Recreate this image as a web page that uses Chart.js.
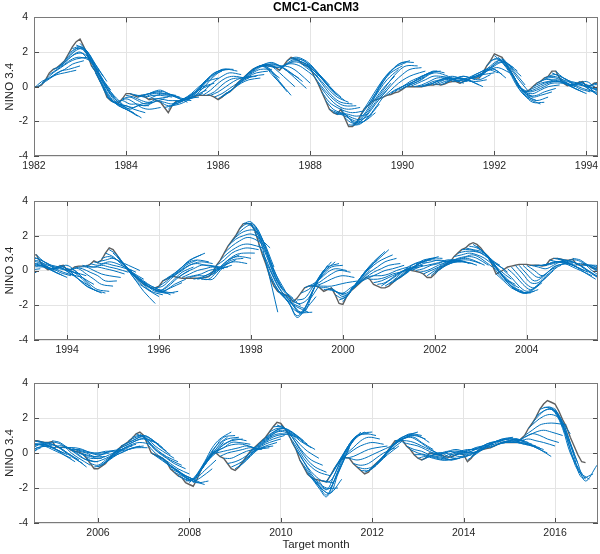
<!DOCTYPE html>
<html>
<head>
<meta charset="utf-8">
<script src="https://cdn.jsdelivr.net/npm/chart.js@4.4.0/dist/chart.umd.min.js"></script>
<style>
  body { margin: 0; background: #fff; }
  .panel { position: absolute; left: 0; width: 600px; }
</style>
</head>
<body>
<div class="panel" style="top:0"><canvas id="c1" width="600" height="180"></canvas></div>
<div class="panel" style="top:180px"><canvas id="c2" width="600" height="180"></canvas></div>
<div class="panel" style="top:360px"><canvas id="c3" width="600" height="194"></canvas></div>
<script>
'use strict';

// observed monthly NINO 3.4, starting Jan 1982
const obsStartYear = 1982;
const ninoObs = [
  0.0, 0.0, 0.1, 0.4, 0.8, 1.0, 1.1, 1.3, 1.5, 1.9, 2.3, 2.6, // 1982
  2.75, 2.3, 1.8, 1.2, 0.9, 0.4, 0.0, -0.6, -0.8, -0.9, -0.95, -0.7,
  -0.4, -0.4, -0.5, -0.6, -0.5, -0.6, -0.75, -0.7, -0.8, -0.9, -1.2, -1.5,
  -1.1, -0.85, -0.8, -0.7, -0.7, -0.6, -0.55, -0.5, -0.5, -0.5, -0.5, -0.6,
  -0.75, -0.6, -0.4, -0.3, -0.1, 0.2, 0.4, 0.6, 0.8, 1.0, 1.1, 1.2, // 1986
  1.25, 1.2, 1.2, 1.1, 0.95, 1.2, 1.5, 1.7, 1.6, 1.5, 1.3, 1.2,
  1.1, 0.6, 0.2, -0.3, -0.8, -1.3, -1.5, -1.6, -1.3, -1.8, -2.3, -2.3,
  -2.1, -1.7, -1.3, -1.1, -0.9, -0.75, -0.7, -0.6, -0.5, -0.45, -0.35, -0.3,
  -0.15, 0.0, 0.0, 0.0, 0.0, 0.0, 0.05, 0.1, 0.1, 0.15, 0.1, 0.15, // 1990
  0.25, 0.3, 0.3, 0.2, 0.3, 0.4, 0.5, 0.5, 0.5, 0.8, 1.2, 1.5,
  1.9, 1.8, 1.7, 1.3, 1.0, 0.6, 0.1, -0.1, -0.3, -0.2, 0.0, 0.2,
  0.3, 0.5, 0.6, 0.9, 0.9, 0.5, 0.2, 0.05, 0.1, 0.15, 0.25, 0.3,
  0.0, 0.05, 0.2, 0.25, 0.25, 0.25, 0.35, 0.55, 0.45, 0.6, 1.0, 1.3, // 1994
  1.2, 0.9, 0.55, 0.3, 0.0, -0.2, -0.4, -0.6, -0.8, -0.9, -1.0, -1.0,
  -0.9, -0.6, -0.5, -0.35, -0.35, -0.4, -0.45, -0.45, -0.45, -0.45, -0.45, -0.45,
  -0.4, -0.35, -0.1, 0.3, 0.6, 1.0, 1.4, 1.7, 2.0, 2.4, 2.7, 2.7,
  2.7, 2.3, 1.6, 0.9, 0.3, -0.4, -0.9, -1.2, -1.3, -1.4, -1.5, -1.8, // 1998
  -1.6, -1.3, -1.0, -0.9, -0.9, -0.9, -1.0, -1.2, -1.1, -1.0, -1.4, -1.9,
  -1.95, -1.5, -1.2, -1.0, -0.8, -0.6, -0.4, -0.5, -0.8, -0.9, -1.0, -1.0,
  -0.9, -0.7, -0.5, -0.4, -0.2, 0.05, 0.0, -0.05, -0.1, -0.2, -0.4, -0.4,
  -0.2, 0.05, 0.2, 0.35, 0.5, 0.8, 1.0, 1.2, 1.3, 1.5, 1.6, 1.5, // 2002
  1.3, 1.0, 0.8, 0.3, -0.2, -0.1, 0.05, 0.2, 0.25, 0.3, 0.35, 0.35,
  0.35, 0.3, 0.3, 0.3, 0.25, 0.3, 0.6, 0.7, 0.7, 0.65, 0.6, 0.6,
  0.65, 0.35, 0.3, 0.35, 0.3, 0.15, 0.1, 0.05, -0.05, -0.3, -0.6, -0.9,
  -0.9, -0.75, -0.6, -0.3, -0.05, 0.15, 0.35, 0.5, 0.65, 0.85, 1.1, 1.2, // 2006
  1.0, 0.5, 0.0, -0.1, -0.2, -0.3, -0.5, -0.9, -1.1, -1.3, -1.4, -1.7,
  -1.8, -1.9, -1.5, -1.0, -0.6, -0.3, 0.0, 0.0, -0.2, -0.3, -0.6, -0.9,
  -1.0, -0.8, -0.5, -0.2, 0.1, 0.3, 0.5, 0.7, 0.9, 1.2, 1.5, 1.75,
  1.7, 1.4, 1.1, 0.6, 0.2, -0.4, -0.8, -1.2, -1.4, -1.5, -1.55, -1.6, // 2010
  -1.65, -1.3, -0.9, -0.6, -0.35, -0.25, -0.3, -0.6, -0.8, -1.0, -1.2, -1.1,
  -0.8, -0.6, -0.4, -0.2, 0.1, 0.4, 0.7, 0.7, 0.7, 0.4, 0.2, -0.1,
  -0.3, -0.4, -0.3, 0.0, -0.05, -0.1, -0.1, -0.2, -0.25, -0.2, -0.1, 0.0,
  -0.1, -0.5, -0.3, 0.0, 0.15, 0.2, 0.25, 0.3, 0.4, 0.5, 0.6, 0.6, // 2014
  0.6, 0.6, 0.6, 0.8, 1.0, 1.4, 1.7, 2.05, 2.5, 2.8, 3.0, 2.9,
  2.8, 2.4, 1.9, 1.5, 0.9, 0.4, -0.1, -0.5, -0.55
];

// forecasts start every 2 months; values given at these lead months
const fcStepMonths = 2;
const fcLeads = [0, 2, 4, 6, 8, 11];

// starts in Jan, Mar, May, Jul, Sep, Nov (first one Jan 1982)
const fcFromJan = [
  // 1982
  [-0.1, 0.3, 0.5, 0.7, 0.8, 0.95], [0.2, 0.5, 0.8, 1.0, 1.3, 1.5], [0.7, 1.0, 1.3, 1.6, 1.7, 1.5],
  [1.1, 1.4, 1.8, 2.0, 1.6, 0.9], [1.5, 2.0, 2.3, 2.0, 1.3, 0.3], [2.2, 2.3, 1.8, 1.0, 0.3, -0.6],
  // 1983
  [2.5, 2.0, 1.2, 0.4, -0.3, -1.0], [1.7, 1.0, 0.2, -0.5, -1.0, -1.3], [0.8, 0.0, -0.7, -1.1, -1.3, -1.7],
  [0.0, -0.8, -1.0, -1.1, -1.3, -1.5], [-0.8, -1.0, -1.1, -1.2, -1.0, -0.9], [-0.9, -0.7, -0.9, -1.2, -1.3, -1.2],
  // 1984
  [-0.5, -0.6, -0.8, -0.9, -0.7, -0.6], [-0.5, -0.5, -0.4, -0.3, -0.4, -0.5], [-0.5, -0.4, -0.3, -0.3, -0.5, -0.7],
  [-0.7, -0.5, -0.4, -0.5, -0.7, -0.8], [-0.8, -0.9, -1.0, -0.9, -0.7, -0.6], [-1.2, -1.1, -1.0, -0.8, -0.5, -0.2],
  // 1985
  [-1.0, -0.8, -0.6, -0.3, 0.0, 0.2], [-0.8, -0.6, -0.3, 0.2, 0.6, 0.9], [-0.7, -0.4, 0.1, 0.6, 0.9, 1.0],
  [-0.5, -0.1, 0.4, 0.8, 1.0, 0.9], [-0.5, -0.2, 0.2, 0.5, 0.6, 0.5], [-0.5, -0.3, 0.0, 0.3, 0.5, 0.6],
  // 1986
  [-0.7, -0.4, -0.1, 0.2, 0.4, 0.5], [-0.4, -0.1, 0.3, 0.6, 0.8, 0.9], [-0.1, 0.3, 0.7, 1.0, 1.2, 1.1],
  [0.4, 0.8, 1.1, 1.2, 0.7, 0.0], [0.8, 1.1, 1.2, 0.9, 0.3, -0.5], [1.1, 1.3, 1.4, 1.2, 0.9, 0.5],
  // 1987
  [1.2, 1.3, 1.2, 0.9, 0.5, -0.1], [1.2, 1.1, 1.3, 1.3, 1.1, 0.6], [1.0, 1.3, 1.5, 1.4, 1.1, 0.5],
  [1.5, 1.7, 1.6, 1.3, 0.8, 0.1], [1.6, 1.4, 1.2, 0.8, 0.2, -0.5], [1.3, 1.1, 0.7, 0.2, -0.3, -0.8],
  // 1988
  [1.0, 0.5, -0.1, -0.6, -0.9, -1.0], [0.2, -0.4, -0.9, -1.2, -1.3, -1.2], [-0.8, -1.3, -1.5, -1.6, -1.7, -1.6],
  [-1.5, -1.6, -1.8, -2.0, -2.0, -1.5], [-1.3, -1.8, -2.2, -2.0, -1.5, -0.6], [-2.2, -2.2, -1.8, -1.2, -0.6, 0.2],
  // 1989
  [-2.0, -1.6, -0.9, -0.2, 0.4, 1.0], [-1.3, -0.6, 0.1, 0.7, 1.1, 1.4], [-0.9, -0.1, 0.6, 1.1, 1.4, 1.4],
  [-0.7, -0.2, 0.3, 0.7, 1.0, 1.1], [-0.5, -0.2, 0.0, 0.3, 0.5, 0.8], [-0.3, 0.0, 0.2, 0.4, 0.7, 0.9],
  // 1990
  [-0.1, 0.1, 0.3, 0.6, 0.9, 0.8], [0.0, 0.2, 0.4, 0.6, 0.6, 0.5], [0.0, 0.1, 0.3, 0.4, 0.5, 0.3],
  [0.1, 0.2, 0.4, 0.5, 0.4, 0.3], [0.1, 0.3, 0.5, 0.5, 0.6, 0.4], [0.1, 0.3, 0.5, 0.4, 0.3, 0.0],
  // 1991
  [0.3, 0.5, 0.6, 0.5, 0.4, 0.7], [0.3, 0.4, 0.6, 0.8, 1.0, 0.8], [0.3, 0.5, 0.7, 0.9, 1.0, 0.5],
  [0.5, 0.6, 0.9, 1.2, 1.4, 1.1], [0.5, 0.9, 1.3, 1.6, 1.2, 0.6], [1.2, 1.6, 1.5, 1.1, 0.5, -0.3],
  // 1992
  [1.8, 1.4, 0.8, 0.0, -0.5, -0.8], [1.6, 1.0, 0.2, -0.5, -0.9, -0.9], [1.0, 0.2, -0.4, -0.6, -0.5, -0.3],
  [0.1, -0.3, -0.4, -0.2, 0.0, 0.1], [-0.3, -0.2, 0.0, 0.2, 0.3, 0.2], [0.0, 0.2, 0.3, 0.4, 0.3, 0.0],
  // 1993
  [0.3, 0.5, 0.5, 0.3, 0.0, -0.3], [0.6, 0.7, 0.5, 0.2, -0.1, -0.3], [0.9, 0.5, 0.3, 0.2, 0.0, -0.2],
  [0.2, 0.1, 0.1, 0.0, -0.1, -0.3], [0.1, 0.2, 0.3, 0.0, -0.4, -0.8], [0.3, 0.1, -0.3, -0.7, -1.0, -1.3],
  // 1994
  [0.1, 0.0, -0.4, -0.8, -1.1, -1.2], [0.2, 0.1, -0.1, -0.3, -0.6, -0.6], [0.3, 0.2, 0.2, 0.1, 0.0, -0.2],
  [0.4, 0.3, 0.4, 0.3, 0.2, 0.0], [0.5, 0.6, 0.7, 0.5, 0.3, 0.0], [1.0, 0.8, 0.4, 0.0, -0.4, -0.8],
  // 1995
  [1.0, 0.6, 0.0, -0.6, -1.2, -1.9], [0.5, 0.1, -0.4, -0.8, -1.2, -1.4], [0.0, -0.3, -0.6, -0.9, -1.1, -1.4],
  [-0.4, -0.7, -1.0, -1.2, -1.3, -1.2], [-0.8, -1.0, -1.2, -1.1, -0.8, -0.5], [-1.0, -1.2, -0.9, -0.5, -0.1, 0.2],
  // 1996
  [-0.9, -0.6, -0.2, 0.2, 0.6, 0.9], [-0.5, -0.2, 0.2, 0.5, 0.6, 0.5], [-0.3, 0.0, 0.3, 0.4, 0.3, 0.2],
  [-0.4, -0.2, 0.0, 0.1, 0.2, 0.1], [-0.4, -0.3, -0.3, -0.1, 0.1, 0.3], [-0.5, -0.4, -0.2, 0.2, 0.6, 0.9],
  // 1997
  [-0.5, -0.5, 0.0, 0.4, 0.5, 0.4], [-0.1, 0.2, 0.6, 0.9, 1.0, 1.0], [0.6, 1.0, 1.3, 1.5, 1.5, 1.3],
  [1.4, 1.8, 2.0, 2.1, 1.9, 1.3], [2.0, 2.4, 2.6, 2.0, 0.4, -2.4], [2.7, 2.8, 2.2, 1.2, 0.0, -1.2],
  // 1998
  [2.6, 2.0, 1.0, -0.2, -1.0, -1.6], [1.5, 0.6, -0.4, -1.2, -1.6, -2.0], [0.3, -0.7, -1.4, -1.8, -2.1, -2.4],
  [-0.9, -1.4, -1.9, -2.7, -2.3, -1.5], [-1.3, -1.9, -2.6, -2.2, -1.2, 0.0], [-1.6, -2.3, -2.4, -1.3, -0.3, 0.5],
  // 1999
  [-1.7, -1.6, -1.0, -0.3, 0.2, 0.4], [-1.0, -0.8, -0.5, -0.1, 0.1, 0.0], [-0.9, -0.8, -0.6, -0.4, -0.3, -0.4],
  [-1.0, -1.0, -1.2, -1.3, -1.0, -0.6], [-1.1, -1.2, -1.5, -1.2, -0.7, 0.0], [-1.4, -1.6, -1.2, -0.6, 0.0, 0.6],
  // 2000
  [-1.8, -1.2, -0.6, 0.0, 0.5, 1.1], [-1.1, -0.6, -0.1, 0.3, 0.6, 0.9], [-0.8, -0.4, -0.1, 0.1, 0.3, 0.4],
  [-0.4, -0.3, -0.3, -0.2, 0.0, 0.2], [-0.7, -0.6, -0.4, -0.2, 0.0, 0.1], [-0.9, -0.6, -0.3, 0.0, 0.2, 0.3],
  // 2001
  [-0.8, -0.5, -0.1, 0.3, 0.5, 0.6], [-0.5, -0.2, 0.1, 0.4, 0.6, 0.8], [-0.2, 0.1, 0.4, 0.6, 0.6, 0.5],
  [0.0, 0.2, 0.3, 0.4, 0.5, 0.6], [-0.1, 0.0, 0.2, 0.4, 0.5, 0.5], [-0.3, 0.0, 0.3, 0.5, 0.6, 0.4],
  // 2002
  [-0.2, 0.2, 0.4, 0.5, 0.5, 0.3], [0.2, 0.4, 0.6, 0.7, 0.6, 0.3], [0.5, 0.7, 0.8, 0.9, 0.7, 0.2],
  [1.0, 1.1, 1.1, 1.0, 0.7, 0.3], [1.3, 1.2, 1.1, 0.8, 0.4, -0.1], [1.5, 1.2, 0.8, 0.2, -0.4, -0.8],
  // 2003
  [1.2, 0.8, 0.2, -0.4, -0.9, -1.2], [0.7, 0.1, -0.4, -0.9, -1.2, -1.3], [-0.2, -0.6, -1.0, -1.2, -1.3, -1.1],
  [0.0, -0.4, -0.9, -1.2, -1.0, -0.4], [0.2, -0.3, -0.8, -1.0, -0.6, 0.0], [0.3, -0.2, -0.6, -0.4, 0.0, 0.3],
  // 2004
  [0.3, 0.0, -0.3, 0.0, 0.3, 0.4], [0.3, 0.3, 0.4, 0.5, 0.4, 0.3], [0.3, 0.4, 0.5, 0.5, 0.3, 0.0],
  [0.6, 0.5, 0.4, 0.2, 0.0, -0.3], [0.7, 0.6, 0.5, 0.3, 0.0, -0.4], [0.6, 0.5, 0.3, 0.0, -0.3, -0.8],
  // 2005
  [0.7, 0.6, 0.3, 0.0, -0.3, -0.5], [0.3, 0.3, 0.1, -0.1, -0.3, -0.3], [0.3, 0.3, 0.2, 0.0, -0.1, 0.0],
  [0.2, 0.1, 0.0, 0.0, 0.1, 0.1], [-0.1, -0.2, -0.3, -0.2, 0.0, 0.2], [-0.6, -0.7, -0.4, -0.1, 0.2, 0.4],
  // 2006
  [-0.8, -0.5, -0.2, 0.0, 0.2, 0.4], [-0.5, -0.2, 0.1, 0.2, 0.3, 0.3], [0.0, 0.3, 0.5, 0.7, 0.8, 0.6],
  [0.4, 0.6, 0.8, 1.0, 0.8, 0.3], [0.7, 0.9, 1.0, 0.8, 0.4, -0.1], [1.1, 0.9, 0.5, 0.1, -0.2, -0.5],
  // 2007
  [0.9, 0.4, 0.0, -0.3, -0.6, -0.9], [0.0, -0.3, -0.6, -0.9, -1.2, -1.5], [-0.2, -0.5, -0.9, -1.2, -1.4, -1.7],
  [-0.5, -0.9, -1.2, -1.5, -1.7, -1.6], [-1.1, -1.3, -1.5, -1.4, -1.0, -0.4], [-1.4, -1.6, -1.3, -0.6, 0.0, 0.6],
  // 2008
  [-1.7, -1.2, -0.5, 0.3, 0.8, 1.2], [-1.3, -0.7, -0.1, 0.5, 0.8, 0.9], [-0.6, -0.1, 0.3, 0.6, 0.8, 0.7],
  [0.0, 0.2, 0.4, 0.5, 0.5, 0.3], [-0.2, 0.0, 0.1, 0.2, 0.3, 0.2], [-0.6, -0.5, -0.3, 0.0, 0.2, 0.3],
  // 2009
  [-0.9, -0.6, -0.2, 0.2, 0.4, 0.6], [-0.5, -0.1, 0.3, 0.6, 0.8, 1.0], [0.1, 0.4, 0.7, 1.0, 1.1, 1.0],
  [0.5, 0.8, 1.1, 1.3, 1.2, 0.8], [0.9, 1.2, 1.4, 1.3, 1.0, 0.5], [1.5, 1.5, 1.3, 1.0, 0.6, 0.2],
  // 2010
  [1.6, 1.2, 0.6, 0.0, -0.4, -0.7], [1.0, 0.4, -0.3, -0.8, -1.1, -1.3], [0.2, -0.5, -1.2, -1.7, -2.0, -2.0],
  [-0.8, -1.4, -2.0, -2.5, -1.6, -0.2], [-1.4, -1.9, -2.4, -1.6, -0.6, 0.8], [-1.6, -2.1, -1.3, -0.3, 0.5, 1.2],
  // 2011
  [-1.6, -1.0, -0.2, 0.5, 1.0, 1.1], [-0.9, -0.2, 0.4, 0.9, 1.1, 1.0], [-0.3, 0.0, 0.3, 0.5, 0.6, 0.5],
  [-0.3, -0.4, -0.3, -0.1, 0.1, 0.4], [-0.8, -0.9, -0.8, -0.5, -0.1, 0.4], [-1.1, -0.9, -0.5, 0.0, 0.5, 0.9],
  // 2012
  [-0.8, -0.4, 0.1, 0.6, 0.9, 1.1], [-0.4, 0.1, 0.6, 0.9, 1.1, 1.0], [0.1, 0.5, 0.8, 1.0, 1.0, 0.6],
  [0.7, 0.8, 0.9, 0.7, 0.4, 0.0], [0.6, 0.5, 0.4, 0.2, 0.0, -0.2], [0.2, 0.0, -0.1, -0.2, -0.3, -0.4],
  // 2013
  [-0.3, -0.2, -0.3, -0.4, -0.4, -0.3], [-0.3, -0.1, 0.0, -0.2, -0.3, -0.2], [-0.1, 0.0, 0.1, 0.0, -0.1, 0.0],
  [-0.1, 0.1, 0.2, 0.1, 0.0, 0.2], [-0.2, 0.0, 0.1, 0.2, 0.3, 0.4], [-0.1, 0.0, 0.1, 0.3, 0.5, 0.7],
  // 2014
  [-0.2, -0.1, 0.2, 0.5, 0.6, 0.8], [-0.2, 0.1, 0.4, 0.6, 0.8, 0.9], [0.2, 0.4, 0.6, 0.7, 0.8, 0.7],
  [0.3, 0.4, 0.6, 0.7, 0.8, 0.6], [0.4, 0.6, 0.7, 0.8, 0.6, 0.4], [0.6, 0.7, 0.6, 0.5, 0.4, 0.2],
  // 2015
  [0.6, 0.6, 0.5, 0.4, 0.2, -0.2], [0.6, 0.9, 1.1, 1.0, 0.8, 0.6], [1.0, 1.3, 1.6, 1.7, 1.7, 1.6],
  [1.7, 2.2, 2.5, 2.4, 1.6, 0.0], [2.5, 2.6, 2.3, 1.4, 0.0, -1.3], [2.6, 2.5, 1.6, 0.2, -1.0, -1.5],
  // 2016
  [2.5, 1.8, 0.6, -0.6, -1.6, -0.7]
];

// starts in Feb, Apr, Jun, Aug, Oct, Dec (first one Feb 1982)
const fcFromFeb = [
  // 1982
  [0.0, 0.3, 0.6, 0.9, 1.0, 1.2], [0.4, 0.8, 1.1, 1.4, 1.6, 1.7], [1.0, 1.2, 1.6, 1.9, 1.9, 1.3],
  [1.3, 1.7, 2.1, 2.2, 1.6, 0.6], [1.9, 2.2, 2.1, 1.5, 0.7, -0.2], [2.4, 2.2, 1.5, 0.7, -0.1, -0.9],
  // 1983
  [2.1, 1.5, 0.7, -0.1, -0.7, -1.2], [1.2, 0.5, -0.3, -0.9, -1.2, -1.5], [0.4, -0.5, -0.9, -1.2, -1.4, -1.8],
  [-0.6, -0.9, -1.1, -1.3, -1.1, -1.1], [-0.9, -0.8, -1.0, -1.0, -1.1, -0.8], [-0.7, -0.6, -0.8, -1.0, -0.9, -0.7],
  // 1984
  [-0.4, -0.5, -0.6, -0.5, -0.5, -0.6], [-0.6, -0.5, -0.3, -0.2, -0.4, -0.6], [-0.6, -0.4, -0.4, -0.5, -0.6, -0.9],
  [-0.7, -0.7, -0.8, -0.8, -0.8, -0.6], [-0.9, -1.1, -1.0, -0.8, -0.6, -0.4], [-1.3, -0.9, -0.8, -0.5, -0.2, 0.1],
  // 1985
  [-0.9, -0.7, -0.4, 0.0, 0.3, 0.5], [-0.7, -0.5, -0.1, 0.4, 0.8, 1.0], [-0.6, -0.2, 0.3, 0.7, 1.0, 1.0],
  [-0.5, -0.1, 0.3, 0.6, 0.8, 0.7], [-0.5, -0.3, 0.1, 0.4, 0.5, 0.5], [-0.6, -0.4, -0.1, 0.2, 0.5, 0.6],
  // 1986
  [-0.6, -0.3, 0.1, 0.4, 0.6, 0.7], [-0.3, 0.1, 0.5, 0.8, 1.0, 1.0], [0.2, 0.6, 0.9, 1.2, 1.0, 0.5],
  [0.6, 1.0, 1.2, 1.1, 0.5, -0.3], [1.0, 1.2, 1.3, 1.0, 0.6, 0.0], [1.2, 1.3, 1.3, 1.1, 0.8, 0.3],
  // 1987
  [1.2, 1.2, 1.2, 1.1, 0.8, 0.2], [1.1, 1.2, 1.4, 1.4, 1.1, 0.6], [1.2, 1.5, 1.6, 1.4, 1.0, 0.3],
  [1.6, 1.6, 1.4, 1.0, 0.5, -0.2], [1.5, 1.3, 0.9, 0.5, 0.0, -0.6], [1.2, 0.8, 0.3, -0.2, -0.6, -0.9],
  // 1988
  [0.6, 0.0, -0.5, -0.9, -1.1, -1.1], [-0.3, -0.9, -1.2, -1.4, -1.5, -1.4], [-1.3, -1.5, -1.6, -1.8, -1.9, -1.6],
  [-1.6, -1.6, -2.0, -2.1, -1.8, -1.0], [-1.8, -2.1, -2.0, -1.6, -1.0, -0.2], [-2.2, -1.9, -1.4, -0.7, -0.1, 0.6],
  // 1989
  [-1.7, -1.1, -0.4, 0.3, 0.8, 1.2], [-1.1, -0.4, 0.4, 0.9, 1.3, 1.5], [-0.8, -0.2, 0.4, 0.9, 1.2, 1.2],
  [-0.6, -0.2, 0.2, 0.5, 0.7, 0.9], [-0.4, -0.1, 0.1, 0.3, 0.6, 0.8], [-0.2, 0.0, 0.3, 0.5, 0.8, 0.9],
  // 1990
  [0.0, 0.2, 0.4, 0.7, 0.8, 0.6], [0.0, 0.1, 0.3, 0.5, 0.5, 0.4], [0.0, 0.1, 0.3, 0.4, 0.4, 0.2],
  [0.1, 0.3, 0.5, 0.6, 0.5, 0.3], [0.1, 0.3, 0.4, 0.5, 0.4, 0.1], [0.2, 0.4, 0.5, 0.4, 0.3, 0.4],
  // 1991
  [0.3, 0.4, 0.5, 0.6, 0.7, 0.8], [0.2, 0.4, 0.7, 0.9, 1.1, 0.7], [0.4, 0.6, 0.8, 1.0, 1.1, 0.8],
  [0.5, 0.8, 1.1, 1.4, 1.4, 0.9], [0.8, 1.2, 1.5, 1.4, 0.9, 0.1], [1.5, 1.6, 1.2, 0.6, -0.1, -0.6],
  // 1992
  [1.7, 1.2, 0.5, -0.3, -0.7, -1.0], [1.3, 0.6, -0.1, -0.6, -0.8, -0.6], [0.6, -0.1, -0.5, -0.5, -0.3, -0.1],
  [-0.1, -0.3, -0.2, 0.0, 0.2, 0.2], [-0.2, 0.0, 0.2, 0.3, 0.3, 0.1], [0.2, 0.4, 0.4, 0.3, 0.1, -0.2],
  // 1993
  [0.5, 0.6, 0.5, 0.2, -0.1, -0.4], [0.8, 0.6, 0.4, 0.1, -0.1, -0.3], [0.5, 0.3, 0.2, 0.1, -0.2, -0.4],
  [0.1, 0.1, 0.2, -0.1, -0.5, -0.9], [0.2, 0.1, -0.2, -0.5, -0.9, -1.2], [0.2, 0.0, -0.3, -0.7, -1.1, -1.3],
  // 1994
  [0.1, 0.1, -0.2, -0.5, -0.8, -0.9], [0.2, 0.2, 0.0, -0.2, -0.3, -0.4], [0.3, 0.2, 0.3, 0.2, 0.1, -0.1],
  [0.5, 0.4, 0.5, 0.4, 0.2, -0.1], [0.7, 0.8, 0.6, 0.3, -0.1, -0.5], [1.2, 0.9, 0.3, -0.3, -0.8, -1.2],
  // 1995
  [0.8, 0.3, -0.2, -0.7, -1.1, -1.5], [0.3, -0.1, -0.5, -0.9, -1.2, -1.3], [-0.2, -0.5, -0.8, -1.0, -1.2, -1.3],
  [-0.6, -0.9, -1.1, -1.2, -1.0, -0.7], [-0.9, -1.1, -1.1, -0.8, -0.4, 0.0], [-1.0, -0.9, -0.5, -0.1, 0.3, 0.6],
  // 1996
  [-0.6, -0.3, 0.0, 0.4, 0.7, 1.0], [-0.4, -0.1, 0.2, 0.4, 0.5, 0.4], [-0.4, -0.1, 0.1, 0.3, 0.3, 0.2],
  [-0.4, -0.3, -0.2, 0.0, 0.1, 0.2], [-0.5, -0.4, -0.2, 0.1, 0.3, 0.6], [-0.5, -0.5, -0.1, 0.3, 0.6, 0.7],
  // 1997
  [-0.3, -0.1, 0.3, 0.7, 0.8, 0.7], [0.3, 0.6, 1.0, 1.2, 1.3, 1.2], [1.0, 1.4, 1.7, 1.9, 1.8, 1.4],
  [1.7, 2.1, 2.3, 2.3, 1.8, 0.2], [2.4, 2.7, 2.6, 1.8, 0.6, -1.0], [2.7, 2.5, 1.6, 0.5, -0.6, -1.5],
  // 1998
  [2.2, 1.4, 0.3, -0.7, -1.3, -1.8], [0.9, 0.0, -0.9, -1.5, -1.9, -2.2], [-0.4, -1.1, -1.6, -2.0, -2.4, -2.4],
  [-1.2, -1.6, -2.2, -2.4, -1.8, -0.8], [-1.4, -2.0, -2.5, -1.8, -0.8, 0.3], [-1.8, -1.9, -1.6, -0.8, -0.1, 0.5],
  // 1999
  [-1.3, -1.1, -0.7, -0.2, 0.2, 0.3], [-0.9, -0.8, -0.5, -0.2, 0.0, -0.1], [-0.9, -0.9, -0.9, -0.8, -0.7, -0.6],
  [-1.1, -1.1, -1.3, -1.3, -0.9, -0.4], [-1.0, -1.3, -1.4, -0.9, -0.3, 0.3], [-1.7, -1.5, -0.9, -0.3, 0.2, 0.9],
  // 2000
  [-1.5, -0.9, -0.4, 0.2, 0.6, 1.2], [-1.0, -0.5, -0.1, 0.2, 0.5, 0.7], [-0.6, -0.4, -0.2, 0.0, 0.1, 0.3],
  [-0.5, -0.5, -0.4, -0.2, -0.1, 0.1], [-0.8, -0.7, -0.4, -0.1, 0.1, 0.2], [-0.9, -0.6, -0.2, 0.2, 0.4, 0.5],
  // 2001
  [-0.7, -0.4, 0.0, 0.3, 0.6, 0.7], [-0.4, -0.1, 0.3, 0.5, 0.7, 0.7], [0.0, 0.2, 0.4, 0.5, 0.6, 0.5],
  [0.0, 0.1, 0.3, 0.4, 0.6, 0.6], [-0.2, 0.0, 0.2, 0.5, 0.6, 0.5], [-0.3, 0.1, 0.4, 0.5, 0.5, 0.4],
  // 2002
  [0.0, 0.3, 0.5, 0.6, 0.6, 0.4], [0.4, 0.6, 0.7, 0.8, 0.7, 0.3], [0.8, 0.9, 1.0, 0.9, 0.7, 0.2],
  [1.2, 1.2, 1.1, 0.9, 0.5, 0.1], [1.4, 1.3, 1.0, 0.5, 0.0, -0.5], [1.4, 1.0, 0.5, -0.1, -0.6, -1.0],
  // 2003
  [1.0, 0.4, -0.1, -0.7, -1.1, -1.3], [0.3, -0.3, -0.7, -1.1, -1.3, -1.2], [-0.1, -0.5, -1.0, -1.3, -1.2, -0.7],
  [0.1, -0.3, -0.8, -1.1, -0.8, -0.2], [0.3, -0.2, -0.7, -0.7, -0.3, 0.2], [0.3, -0.1, -0.4, -0.2, 0.2, 0.4],
  // 2004
  [0.3, 0.2, 0.1, 0.3, 0.5, 0.4], [0.3, 0.3, 0.4, 0.5, 0.4, 0.1], [0.3, 0.5, 0.5, 0.4, 0.2, -0.1],
  [0.7, 0.6, 0.4, 0.2, -0.1, -0.5], [0.6, 0.5, 0.4, 0.1, -0.2, -0.6], [0.6, 0.6, 0.4, 0.0, -0.3, -0.7],
  // 2005
  [0.4, 0.4, 0.2, -0.1, -0.4, -0.5], [0.3, 0.3, 0.1, 0.0, -0.2, -0.2], [0.2, 0.2, 0.1, 0.0, 0.0, 0.1],
  [0.0, -0.1, -0.2, -0.1, 0.1, 0.2], [-0.3, -0.5, -0.4, -0.2, 0.1, 0.3], [-0.8, -0.7, -0.3, 0.0, 0.3, 0.5],
  // 2006
  [-0.7, -0.4, -0.1, 0.1, 0.3, 0.4], [-0.3, 0.0, 0.3, 0.5, 0.6, 0.5], [0.2, 0.4, 0.6, 0.8, 0.8, 0.5],
  [0.5, 0.7, 0.9, 0.9, 0.6, 0.1], [0.9, 1.0, 0.8, 0.4, 0.1, -0.3], [1.1, 0.7, 0.2, -0.1, -0.4, -0.7],
  // 2007
  [0.5, 0.0, -0.3, -0.6, -0.9, -1.2], [-0.1, -0.4, -0.8, -1.0, -1.3, -1.6], [-0.3, -0.7, -1.0, -1.4, -1.6, -1.8],
  [-0.9, -1.1, -1.4, -1.6, -1.4, -0.9], [-1.3, -1.5, -1.5, -1.0, -0.4, 0.2], [-1.6, -1.5, -0.9, -0.2, 0.4, 0.9],
  // 2008
  [-1.7, -1.0, -0.3, 0.4, 0.9, 1.0], [-1.0, -0.4, 0.1, 0.5, 0.7, 0.8], [-0.3, 0.1, 0.3, 0.6, 0.6, 0.5],
  [0.0, 0.1, 0.2, 0.3, 0.4, 0.2], [-0.3, -0.3, -0.1, 0.1, 0.2, 0.3], [-0.8, -0.6, -0.3, 0.1, 0.3, 0.4],
  // 2009
  [-0.8, -0.4, 0.1, 0.4, 0.6, 0.8], [-0.2, 0.2, 0.5, 0.8, 1.0, 1.1], [0.3, 0.6, 0.9, 1.2, 1.2, 0.9],
  [0.7, 1.0, 1.3, 1.4, 1.2, 0.7], [1.2, 1.4, 1.4, 1.1, 0.7, 0.3], [1.6, 1.4, 1.0, 0.5, 0.1, -0.3],
  // 2010
  [1.4, 0.9, 0.2, -0.4, -0.8, -1.1], [0.6, -0.1, -0.8, -1.3, -1.6, -1.7], [-0.4, -1.0, -1.6, -2.1, -2.3, -1.5],
  [-1.2, -1.6, -2.1, -2.3, -1.2, 0.3], [-1.5, -2.0, -2.0, -1.0, 0.0, 1.0], [-1.6, -1.6, -0.8, 0.1, 0.8, 1.2],
  // 2011
  [-1.3, -0.6, 0.1, 0.7, 1.1, 1.2], [-0.6, -0.1, 0.3, 0.7, 0.9, 0.8], [-0.3, -0.2, 0.0, 0.2, 0.3, 0.4],
  [-0.6, -0.7, -0.6, -0.3, 0.0, 0.3], [-1.0, -1.0, -0.7, -0.2, 0.2, 0.7], [-1.0, -0.7, -0.2, 0.3, 0.7, 1.0],
  // 2012
  [-0.6, -0.2, 0.3, 0.8, 1.0, 1.2], [-0.2, 0.3, 0.7, 0.9, 1.0, 0.8], [0.4, 0.7, 0.9, 0.9, 0.6, 0.2],
  [0.7, 0.7, 0.6, 0.4, 0.2, -0.1], [0.4, 0.2, 0.1, -0.1, -0.2, -0.3], [-0.1, -0.1, -0.2, -0.3, -0.4, -0.3],
  // 2013
  [-0.4, -0.2, -0.1, -0.3, -0.4, -0.2], [0.0, 0.0, 0.0, -0.1, -0.2, -0.1], [-0.1, 0.0, 0.1, 0.1, 0.0, 0.1],
  [-0.2, 0.0, 0.1, 0.2, 0.2, 0.3], [-0.2, 0.0, 0.1, 0.3, 0.4, 0.5], [0.0, 0.0, 0.2, 0.4, 0.6, 0.7],
  // 2014
  [-0.4, -0.1, 0.2, 0.5, 0.7, 0.8], [0.0, 0.2, 0.5, 0.7, 0.8, 0.8], [0.2, 0.4, 0.6, 0.8, 0.8, 0.7],
  [0.3, 0.5, 0.6, 0.7, 0.7, 0.5], [0.5, 0.6, 0.7, 0.6, 0.5, 0.3], [0.6, 0.6, 0.6, 0.5, 0.3, 0.0],
  // 2015
  [0.6, 0.7, 0.8, 0.7, 0.6, 0.4], [0.8, 1.0, 1.2, 1.3, 1.2, 1.0], [1.4, 1.8, 2.1, 2.2, 2.0, 1.1],
  [2.1, 2.4, 2.5, 2.1, 1.0, -0.6], [2.6, 2.6, 2.0, 0.9, -0.4, -1.5], [2.6, 2.1, 1.2, -0.2, -1.4, -1.2]
];

const panelRanges = [[1982, 1994.25], [1993.28, 2005.55], [2004.6, 2016.94]];
const panelTicks = [
  [1982, 1984, 1986, 1988, 1990, 1992, 1994],
  [1994, 1996, 1998, 2000, 2002, 2004],
  [2006, 2008, 2010, 2012, 2014, 2016]
];
const yTicks = [-4, -2, 0, 2, 4];

const fontFamily = '"Liberation Sans", Arial, Helvetica, sans-serif';
const textColor = '#262626';

const obsPoints = ninoObs.map((v, i) => ({ x: obsStartYear + i / 12, y: v }));

function toSeries(rows, firstMonth) {
  return rows.map((vals, k) =>
    vals.map((v, j) => ({
      x: obsStartYear + (firstMonth + k * fcStepMonths + fcLeads[j]) / 12,
      y: v,
    }))
  );
}
const fcSeries = toSeries(fcFromJan, 0).concat(toSeries(fcFromFeb, 1));

// matlab-like box with inward ticks on all four sides
const boxPlugin = {
  id: 'box',
  afterDraw(chart) {
    const { ctx, chartArea: a, scales } = chart;
    ctx.save();
    ctx.lineWidth = 1;
    ctx.strokeStyle = '#4d4d4d';
    ctx.beginPath();
    scales.x.ticks.forEach((t) => {
      const px = Math.round(scales.x.getPixelForValue(t.value)) + 0.5;
      ctx.moveTo(px, a.bottom); ctx.lineTo(px, a.bottom - 5);
      ctx.moveTo(px, a.top); ctx.lineTo(px, a.top + 5);
    });
    scales.y.ticks.forEach((t) => {
      const py = Math.round(scales.y.getPixelForValue(t.value)) + 0.5;
      ctx.moveTo(a.left, py); ctx.lineTo(a.left + 5, py);
      ctx.moveTo(a.right, py); ctx.lineTo(a.right - 5, py);
    });
    ctx.stroke();
    ctx.strokeStyle = '#7a7a7a';
    ctx.strokeRect(Math.round(a.left) + 0.5, Math.round(a.top) + 0.5,
      Math.round(a.width) - 1, Math.round(a.height) - 1);
    ctx.restore();
  }
};

function makePanel(id, p, opts) {
  const datasets = fcSeries.map((pts) => ({
    data: pts,
    borderColor: '#0072BD',
    borderWidth: 1,
    tension: 0.35,
    pointRadius: 0,
    fill: false,
  }));
  // observed is last in the list so it sits under the forecasts
  datasets.push({
    data: obsPoints,
    borderColor: '#5f5f5f',
    borderWidth: 1.4,
    tension: 0,
    pointRadius: 0,
    fill: false,
  });

  return new Chart(document.getElementById(id), {
    type: 'line',
    data: { datasets },
    plugins: [boxPlugin],
    options: {
      responsive: false,
      animation: false,
      events: [],
      layout: { padding: { top: opts.top, right: 2, left: 0, bottom: 0 } },
      scales: {
        x: {
          type: 'linear',
          min: panelRanges[p][0],
          max: panelRanges[p][1],
          afterBuildTicks: (s) => { s.ticks = panelTicks[p].map((v) => ({ value: v })); },
          afterFit: (s) => { s.height = opts.xHeight; s.paddingLeft = 0; s.paddingRight = 0; },
          ticks: {
            autoSkip: false,
            maxRotation: 0,
            padding: 4,
            color: textColor,
            font: { family: fontFamily, size: 10.5 },
            callback: (v) => String(v),
          },
          grid: { color: '#e4e4e4', drawTicks: false },
          border: { display: false },
          title: {
            display: !!opts.xTitle,
            text: opts.xTitle || '',
            color: textColor,
            font: { family: fontFamily, size: 11.5 },
            padding: { top: 0, bottom: 2 },
          },
        },
        y: {
          min: -4,
          max: 4,
          afterBuildTicks: (s) => { s.ticks = yTicks.map((v) => ({ value: v })); },
          afterFit: (s) => { s.width = 34; s.paddingTop = 0; s.paddingBottom = 0; },
          ticks: {
            padding: 6,
            color: textColor,
            font: { family: fontFamily, size: 10.5 },
          },
          grid: { color: '#e4e4e4', drawTicks: false },
          border: { display: false },
          title: {
            display: true,
            text: 'NINO 3.4',
            color: textColor,
            font: { family: fontFamily, size: 11.5 },
            padding: { top: 3, bottom: 0 },
          },
        },
      },
      plugins: {
        legend: { display: false },
        tooltip: { enabled: false },
        title: {
          display: !!opts.title,
          text: opts.title || '',
          fullSize: false,
          color: '#000',
          font: { family: fontFamily, size: 12, weight: 'bold' },
          padding: { top: 0, bottom: 3 },
        },
      },
    },
  });
}

makePanel('c1', 0, { top: 0, xHeight: 24, title: 'CMC1-CanCM3' });
makePanel('c2', 1, { top: 21, xHeight: 20 });
makePanel('c3', 2, { top: 23, xHeight: 31, xTitle: 'Target month' });
</script>
</body>
</html>
